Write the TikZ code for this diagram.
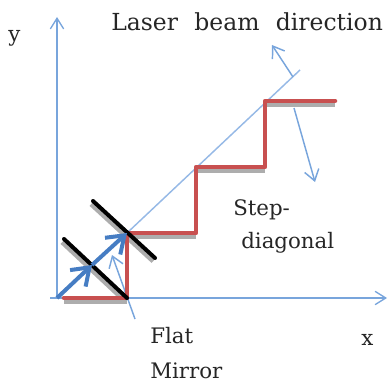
\documentclass[tikz,border=0pt]{standalone}
\usepackage{fontspec}
\setmainfont[WordSpace=2.2]{DejaVu Serif}
\usetikzlibrary{arrows.meta}
\definecolor{axisblue}{RGB}{120,165,220}
\definecolor{beamblue}{RGB}{70,125,195}
\definecolor{lightblue}{RGB}{150,185,230}
\definecolor{stepred}{RGB}{200,80,80}
\tikzset{
 x=0.75pt,y=-0.75pt,
 axisline/.style={draw=axisblue,line width=1.1pt,-{Straight Barb[length=8pt,width=10pt,line width=1pt]}},
 thinarrow/.style={draw=axisblue,line width=1.1pt,-{Straight Barb[length=8pt,width=11pt,line width=1.1pt]}},
 beam/.style={draw=beamblue,line width=3pt,-{Straight Barb[length=12pt,width=17pt,line width=3pt]}},
 mirrorline/.style={draw=black,line width=3pt,line cap=round},
 stepline/.style={draw=stepred,line width=3.4pt,line cap=round,line join=round},
 shadowline/.style={draw=black!32,line width=3.2pt},
 lab/.style={inner sep=0pt,anchor=base west,font=\fontsize{16}{18}\selectfont,text=black!85},
 titlelab/.style={lab,font=\fontsize{17.6}{20}\selectfont},
}
\begin{document}
\begin{tikzpicture}
\useasboundingbox (0,0) rectangle (392,385);
\coordinate (o) at (57,298);
\coordinate (ytop) at (57,17);
\coordinate (xs) at (50,298);
\coordinate (xe) at (387,298);
\coordinate (s0) at (64,298);
\coordinate (s1) at (127,298);
\coordinate (s2) at (127,233);
\coordinate (s3) at (196,233);
\coordinate (s4) at (196,167);
\coordinate (s5) at (265,167);
\coordinate (s6) at (265,101);
\coordinate (s7) at (335,101);
\coordinate (mid) at (92,265);
\coordinate (diagend) at (300,70);
\coordinate (la) at (293,77);
\coordinate (lb) at (272,45);
\coordinate (da) at (294,108);
\coordinate (db) at (315,182);
\coordinate (ma) at (135,319);
\coordinate (mb) at (112,255);
% shadows
\draw[shadowline] ([yshift=-3pt]s0) -- ([yshift=-3pt]s1);
\draw[shadowline] ([yshift=-3pt]s2) -- ([yshift=-3pt]s3);
\draw[shadowline] ([yshift=-3pt]s4) -- ([yshift=-3pt]s5);
\draw[shadowline] ([yshift=-3pt]s6) -- ([yshift=-3pt]s7);
\draw[shadowline] ([shift={(-1.5pt,-2.5pt)}]64,239) -- ([shift={(-1.5pt,-2.5pt)}]127,298);
\draw[shadowline] ([shift={(-1.5pt,-2.5pt)}]93,201) -- ([shift={(-1.5pt,-2.5pt)}]155,258);
% axes
\draw[axisline] (o) -- (ytop);
\draw[axisline] (xs) -- (xe);
% thin lines
\draw[draw=lightblue,line width=1.1pt] (s2) -- (diagend);
\draw[thinarrow] (la) -- (lb);
\draw[thinarrow] (da) -- (db);
\draw[thinarrow] (ma) -- (mb);
% steps
\draw[stepline] (s0) -- (s1) -- (s2) -- (s3) -- (s4) -- (s5) -- (s6) -- (s7);
% mirrors
\draw[mirrorline] (64,239) -- (s1);
\draw[mirrorline] (93,201) -- (155,258);
% beams
\draw[beam] (o) -- (mid);
\draw[beam] (mid) -- (s2);
% labels
\node[lab] (ylab) at (8,41) {y};
\node[lab] (xlab) at (361,345) {x};
\node[titlelab] (beamlab) at (111,31) {Laser beam direction};
\node[lab] (steplab) at (233,215) {Step-};
\node[lab] (diaglab) at (241,248) {diagonal};
\node[lab] (flatlab) at (150,343) {Flat};
\node[lab] (mirlab) at (150,378) {Mirror};
\end{tikzpicture}
\end{document}
